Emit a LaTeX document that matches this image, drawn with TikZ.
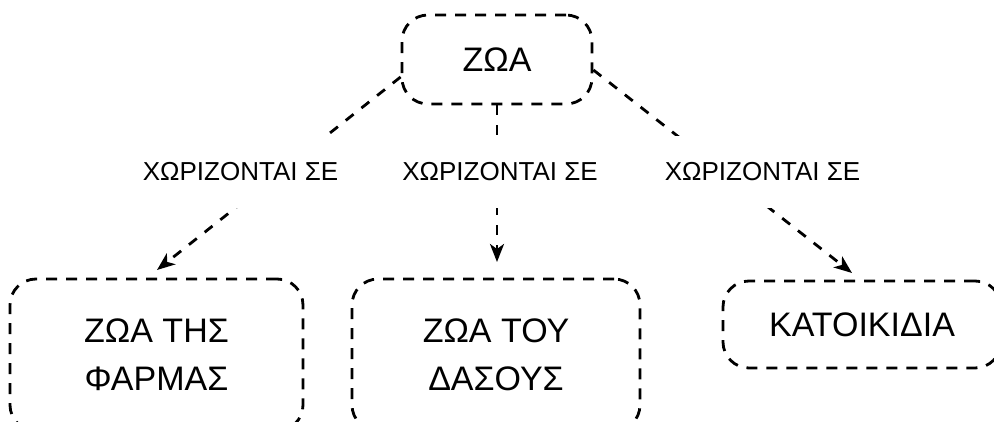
\documentclass[tikz,border=0pt]{standalone}
\usepackage{fontspec}
\setmainfont{Liberation Sans}
\usetikzlibrary{arrows.meta}
\tikzset{
  x=1pt, y=-1pt,
  box/.style={draw=black, line width=2.8pt, dash pattern=on 11pt off 9pt,
    rounded corners=26pt, inner sep=0pt, align=center,
    font=\fontsize{34}{48}\selectfont},
  conn/.style={draw=black, line width=2.8pt, dash pattern=on 10pt off 10pt,
    -{Stealth[length=18pt,width=14pt,inset=5pt]}},
  lbl/.style={fill=white, inner xsep=2pt, minimum height=72pt,
    font=\fontsize{26}{30}\selectfont}
}
\begin{document}
\begin{tikzpicture}
\useasboundingbox (0,0) rectangle (994,422);
\clip (0,0) rectangle (994,422);
\fill[white] (0,0) rectangle (994,422);
% boxes
\node[box, minimum width=190pt, minimum height=89pt] (zoa) at (497,59.5) {ΖΩΑ};
\node[box, minimum width=293pt, minimum height=152pt] (farm) at (156.5,355) {ΖΩΑ ΤΗΣ\\ΦΑΡΜΑΣ};
\node[box, minimum width=288pt, minimum height=152pt] (forest) at (496,355) {ΖΩΑ ΤΟΥ\\ΔΑΣΟΥΣ};
\node[box, minimum width=278pt, minimum height=87pt] (pets) at (862,324.5) {ΚΑΤΟΙΚΙΔΙΑ};
% connector ends
\coordinate (s1) at ([yshift=-17.5pt]zoa.west);
\coordinate (s2) at (zoa.south);
\coordinate (s3) at ([yshift=-10.5pt]zoa.east);
\coordinate (e1) at (157,270);
\coordinate (e2) at (497,262);
\coordinate (e3) at (852,273);
\draw[conn] (s1) -- (e1);
\draw[conn] (s2) -- (e2);
\draw[conn] (s3) -- (e3);
% labels
\node[lbl] (l1) at (240.5,172) {ΧΩΡΙΖΟΝΤΑΙ ΣΕ};
\node[lbl] (l2) at (500,172) {ΧΩΡΙΖΟΝΤΑΙ ΣΕ};
\node[lbl] (l3) at (762.5,172) {ΧΩΡΙΖΟΝΤΑΙ ΣΕ};
\end{tikzpicture}
\end{document}
